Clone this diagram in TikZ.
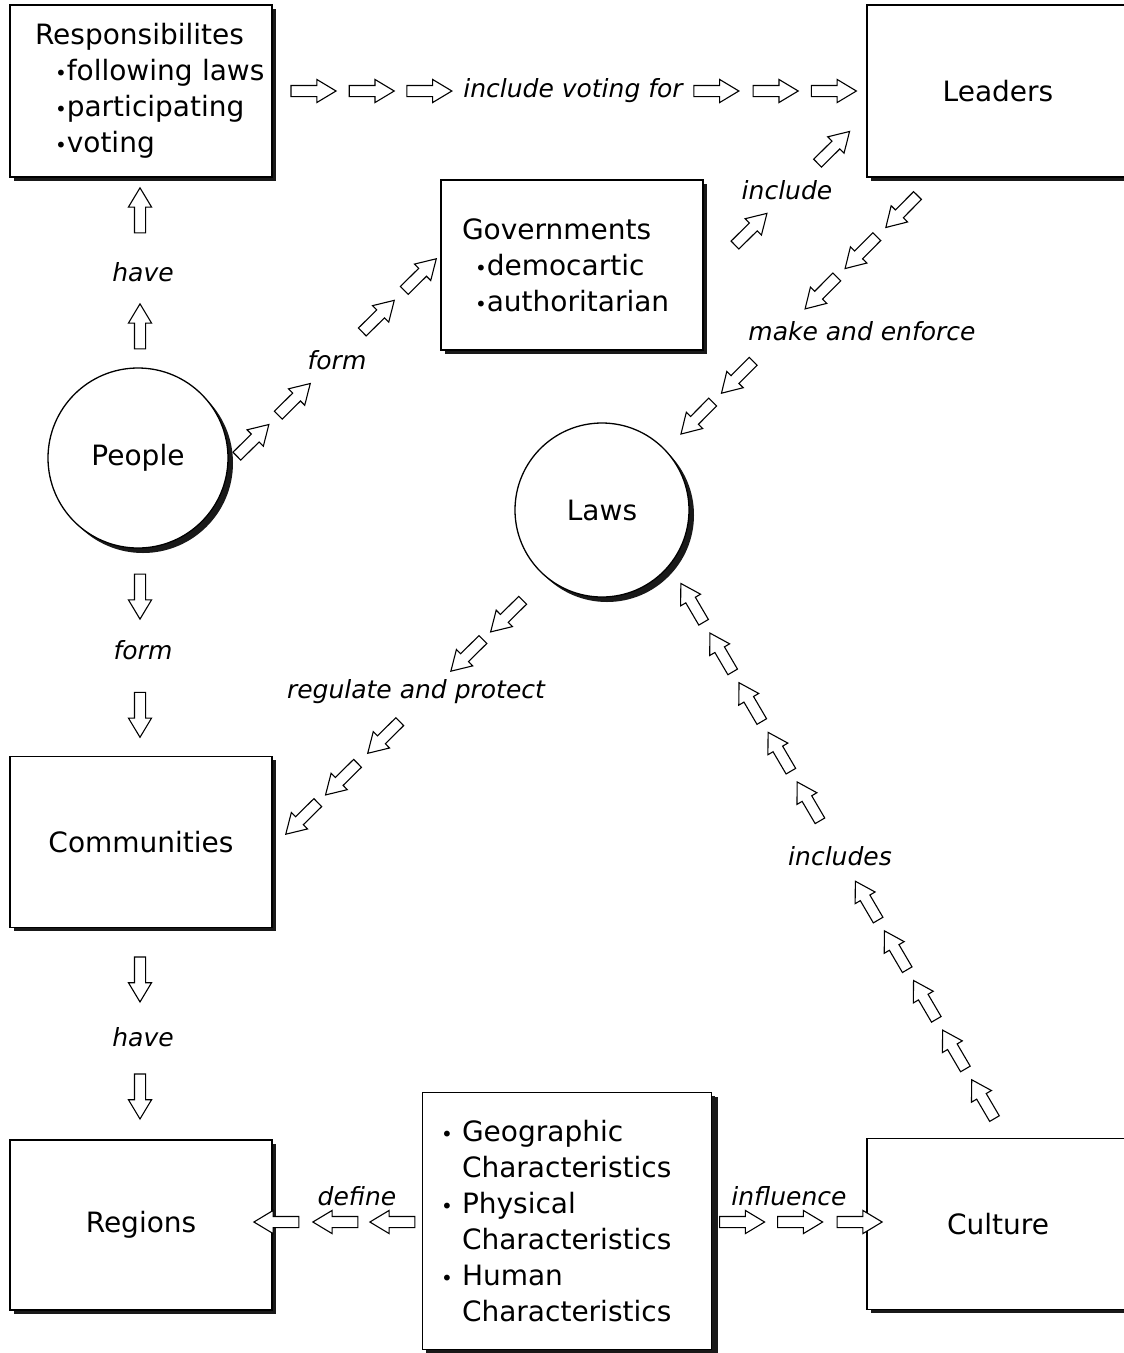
\documentclass[tikz,border=0pt]{standalone}
\usepackage{fontspec}
\setmainfont{DejaVu Sans}
\usetikzlibrary{shapes.arrows,shadows,calc}
\newcommand\bul{{\fontsize{20}{20}\selectfont •}}
\tikzset{
  box/.style={draw, line width=1.3pt, fill=white, inner sep=0pt, align=left,
    font=\fontsize{28}{36}\selectfont,
    drop shadow={fill=black!90, opacity=1, shadow xshift=3.5pt, shadow yshift=-3.5pt}},
  ball/.style={circle, draw, line width=1.3pt, fill=white, inner sep=0pt,
    font=\fontsize{28}{36}\selectfont,
    drop shadow={fill=black!90, opacity=1, shadow xshift=5pt, shadow yshift=-5pt}},
  barrow/.style={single arrow, draw, line width=1.1pt, fill=white,
    inner xsep=0pt, inner ysep=5pt, text height=0pt, text depth=0pt,
    minimum height=45pt, single arrow head extend=6pt,
    single arrow tip angle=62, sloped, allow upside down},
  lab/.style={font=\fontsize{25}{30}\selectfont\itshape, inner sep=1pt}
}
\begin{document}
\begin{tikzpicture}[x=1pt,y=-1pt]
\path[use as bounding box, fill=white] (0,0) rectangle (1124,1353);

% boxes
\node[box, minimum width=262pt, minimum height=172pt, text width=212pt] (resp) at (141,91)
  {\mbox{Responsibilites}\\ \mbox{\hspace*{20pt}\bul following laws}\\
   \mbox{\hspace*{20pt}\bul participating}\\ \mbox{\hspace*{20pt}\bul voting}};
\node[box, minimum width=262pt, minimum height=172pt] (lead) at (998,91) {Leaders};
\node[box, minimum width=262pt, minimum height=170pt, text width=220pt] (gov) at (572,265)
  {\mbox{Governments}\\ \mbox{\hspace*{13pt}\bul democartic}\\ \mbox{\hspace*{13pt}\bul authoritarian}};
\node[ball, minimum size=180pt] (people) at (138,458) {People};
\node[ball, minimum size=174pt] (laws) at (602,510) {Laws};
\node[box, minimum width=262pt, minimum height=171pt] (comm) at (141,842) {Communities};
\node[box, minimum width=262pt, minimum height=170pt] (reg) at (141,1225) {Regions};
\node[box, minimum width=262pt, minimum height=171pt] (cult) at (998,1224) {Culture};
\node[box, minimum width=289pt, minimum height=257pt, text width=252pt,
  drop shadow={fill=black!90, opacity=1, shadow xshift=6pt, shadow yshift=-4pt}] (chars) at (567,1221)
  {\mbox{\makebox[21pt][l]{\bul}Geographic}\\ \mbox{\hspace*{21pt}Characteristics}\\
   \mbox{\makebox[21pt][l]{\bul}Physical}\\ \mbox{\hspace*{21pt}Characteristics}\\
   \mbox{\makebox[21pt][l]{\bul}Human}\\ \mbox{\hspace*{21pt}Characteristics}};

% chain end points
\coordinate (a1) at (288,91);   \coordinate (b1) at (853,91);
\coordinate (a2) at (140,352);  \coordinate (b2) at (140,195);
\coordinate (a3) at (233,460);  \coordinate (b3) at (433,262);
\coordinate (a4) at (730,250);  \coordinate (b4) at (848,133);
\coordinate (a5) at (923,190);  \coordinate (b5) at (682,433);
\coordinate (a6) at (528,595);  \coordinate (b6) at (287,833);
\coordinate (a7) at (140,570);  \coordinate (b7) at (140,733);
\coordinate (a8) at (140,952);  \coordinate (b8) at (140,1115);
\coordinate (a9) at (420,1222); \coordinate (b9) at (258,1222);
\coordinate (a10) at (715,1222); \coordinate (b10) at (878,1222);
\coordinate (a11) at (1000,1128); \coordinate (b11) at (680,582);

% responsibilities -> leaders
\path (a1) -- (b1)
  node[barrow, pos=0.037]{} node[barrow, pos=0.140]{} node[barrow, pos=0.242]{}
  node[barrow, pos=0.750]{} node[barrow, pos=0.855]{} node[barrow, pos=0.958]{};
\node[lab] (l1) at (573,91) {include voting for};
% people -> responsibilities
\path (a2) -- (b2) node[barrow, pos=0.134]{} node[barrow, pos=0.873]{};
\node[lab] (l2) at (143,272) {have};
% people -> governments
\path (a3) -- (b3) node[barrow, pos=0.083]{} node[barrow, pos=0.29]{}
  node[barrow, pos=0.71]{} node[barrow, pos=0.92]{};
\node[lab] (l3) at (337,360) {form};
% governments -> leaders
\path (a4) -- (b4) node[barrow, pos=0.15]{} node[barrow, pos=0.85]{};
\node[lab] (l4) at (787,190) {include};
% leaders -> laws
\path (a5) -- (b5) node[barrow, pos=0.075]{} node[barrow, pos=0.244]{} node[barrow, pos=0.41]{}
  node[barrow, pos=0.757]{} node[barrow, pos=0.925]{};
\node[lab] (l5) at (862,331) {make and enforce};
% laws -> communities
\path (a6) -- (b6) node[barrow, pos=0.075]{} node[barrow, pos=0.24]{} node[barrow, pos=0.585]{}
  node[barrow, pos=0.76]{} node[barrow, pos=0.925]{};
\node[lab] (l6) at (416,692) {regulate and protect};
% people -> communities
\path (a7) -- (b7) node[barrow, pos=0.135]{} node[barrow, pos=0.86]{};
\node[lab] (l7) at (143,650) {form};
% communities -> regions
\path (a8) -- (b8) node[barrow, pos=0.14]{} node[barrow, pos=0.858]{};
\node[lab] (l8) at (143,1037) {have};
% characteristics -> regions
\path (a9) -- (b9) node[barrow, pos=0.142]{} node[barrow, pos=0.494]{} node[barrow, pos=0.858]{};
\node[lab] (l9) at (357,1196) {define};
% characteristics -> culture
\path (a10) -- (b10) node[barrow, pos=0.138]{} node[barrow, pos=0.494]{} node[barrow, pos=0.859]{};
\node[lab] (l10) at (789,1196) {influence};
% culture -> laws
\path (a11) -- (b11)
  node[barrow, pos=0.0455]{} node[barrow, pos=0.1364]{} node[barrow, pos=0.2273]{}
  node[barrow, pos=0.3182]{} node[barrow, pos=0.4091]{} node[barrow, pos=0.5909]{}
  node[barrow, pos=0.6818]{} node[barrow, pos=0.7727]{} node[barrow, pos=0.8636]{}
  node[barrow, pos=0.9545]{};
\node[lab] (l11) at (840,856) {includes};
\end{tikzpicture}
\end{document}
